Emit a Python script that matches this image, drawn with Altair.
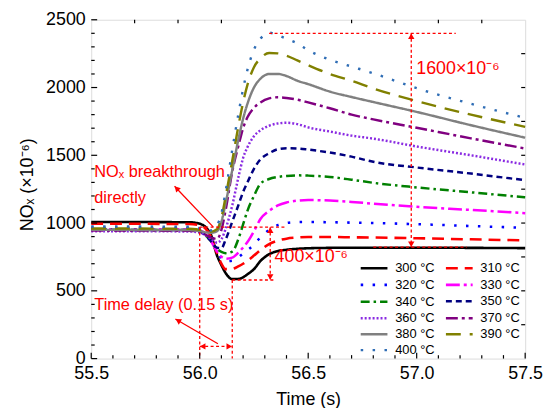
import math
import altair as alt
import pandas as pd

# ---------------- data ----------------
times = [55.5, 55.95, 56.0, 56.05, 56.08, 56.1, 56.12, 56.15, 56.18, 56.2, 56.22, 56.25,
         56.28, 56.32, 56.36, 56.4, 56.45, 56.5, 56.6, 56.7, 56.8, 57.0, 57.25, 57.5]

temps = ["300 °C", "310 °C", "320 °C", "330 °C", "340 °C", "350 °C",
         "360 °C", "370 °C", "380 °C", "390 °C", "400 °C"]

s300 = [1008, 1006, 995, 920, 760, 690, 630, 587, 588, 600, 622, 660, 720, 770, 793, 803, 810, 814, 817, 818, 818, 818, 817, 815]
s310 = [995, 993, 985, 905, 775, 700, 660, 662, 682, 700, 722, 760, 800, 845, 870, 885, 893, 897, 897, 895, 893, 888, 880, 872]
s320 = [965, 963, 955, 880, 790, 742, 718, 722, 750, 775, 800, 840, 895, 950, 985, 1000, 1007, 1008, 1006, 1003, 1000, 992, 978, 965]
s330 = [955, 953, 945, 870, 790, 752, 737, 745, 785, 820, 860, 940, 1030, 1090, 1130, 1152, 1165, 1170, 1166, 1156, 1143, 1120, 1097, 1073]
s340 = [950, 948, 940, 870, 810, 788, 778, 790, 890, 990, 1090, 1200, 1290, 1325, 1340, 1348, 1352, 1350, 1340, 1320, 1297, 1263, 1227, 1190]
s350 = [950, 948, 938, 870, 818, 815, 880, 1010, 1140, 1230, 1300, 1400, 1470, 1515, 1545, 1552, 1550, 1542, 1520, 1490, 1452, 1410, 1365, 1316]
s360 = [940, 938, 930, 885, 855, 880, 960, 1130, 1350, 1480, 1560, 1640, 1685, 1718, 1735, 1740, 1730, 1706, 1675, 1645, 1623, 1565, 1500, 1432]
s370 = [945, 943, 935, 895, 882, 950, 1100, 1380, 1580, 1700, 1780, 1850, 1890, 1920, 1928, 1923, 1910, 1890, 1847, 1800, 1765, 1703, 1625, 1550]
s380 = [950, 948, 940, 928, 940, 1010, 1150, 1390, 1630, 1770, 1880, 2000, 2065, 2100, 2100, 2085, 2050, 2025, 1970, 1930, 1893, 1820, 1722, 1630]
s390 = [960, 958, 950, 935, 955, 1040, 1200, 1460, 1730, 1890, 2020, 2150, 2215, 2255, 2252, 2235, 2200, 2165, 2100, 2050, 1993, 1900, 1800, 1710]
s400 = [975, 973, 962, 945, 985, 1070, 1240, 1540, 1820, 1990, 2130, 2280, 2360, 2405, 2385, 2360, 2325, 2275, 2205, 2155, 2105, 1995, 1880, 1776]

series = [s300, s310, s320, s330, s340, s350, s360, s370, s380, s390, s400]

colors = ["#000000", "#FF0000", "#0000FF", "#FF00FF", "#008000", "#000080",
          "#8A2BE2", "#800080", "#808080", "#808000", "#2F6DB5"]
dashes = [[1, 0], [12, 7], [2.5, 9.5], [14, 4, 3, 4], [9, 4, 2.5, 4], [6, 4],
          [2, 2], [12, 4, 3, 4], [1, 0], [15, 9], [2.5, 9.5]]
widths = [2.6, 2.4, 2.4, 2.4, 2.4, 2.4, 2.2, 2.4, 2.4, 2.4, 2.4]

x_major = [55.5, 56.0, 56.5, 57.0, 57.5]
x_minor = [55.6, 55.7, 55.8, 55.9, 56.1, 56.2, 56.3, 56.4, 56.6, 56.7, 56.8, 56.9,
           57.1, 57.2, 57.3, 57.4]
x_top = [55.7, 55.9, 56.1, 56.3, 56.5, 56.7, 56.9, 57.1, 57.3]
y_major = [0, 500, 1000, 1500, 2000, 2500]
y_minor = [100, 200, 300, 400, 600, 700, 800, 900, 1100, 1200, 1300, 1400,
           1600, 1700, 1800, 1900, 2100, 2200, 2300, 2400]
y_right = [250, 500, 750, 1000, 1250, 1500, 1750, 2000, 2250]

# annotation geometry (data units)
dotted_t1 = [56.32, 56.80, 56.975, 56.0, 56.15, 56.325, 56.0, 56.15, 56.0]
dotted_v1 = [2400, 822, 2400, 970, 580, 970, 970, 580, 90]
dotted_t2 = [57.18, 57.23, 56.975, 56.40, 56.35, 56.325, 56.0, 56.15, 56.15]
dotted_v2 = [2400, 822, 822, 970, 580, 580, 0, 0, 90]

solid_t1 = [56.062, 56.084]
solid_v1 = [972, 110]
solid_t2 = [55.884, 55.888]
solid_v2 = [1272, 292]

ann_text = ["NOₓ breakthrough", "directly", "Time delay (0.15 s)"]
ann_t = [55.514, 55.514, 55.514]
ann_v = [1340, 1148, 360]
big_text = ["1600×10⁻⁶", "400×10⁻⁶"]
big_t = [56.998, 56.345]
big_v = [2098, 709]

# ---------------- frames ----------------
W, H = 438, 342
SX = W / 2.0
SY = H / 2500.0

rows = []
for name, vals in zip(temps, series):
    for t, v in zip(times, vals):
        rows.append({"t": t, "v": v, "T": name})
df = pd.DataFrame(rows)


def head(tip_t, tip_v, from_t, from_v, back=3.0):
    dx = (tip_t - from_t) * SX
    dy = -(tip_v - from_v) * SY
    L = math.hypot(dx, dy)
    ux, uy = dx / L, dy / L
    ang = math.degrees(math.atan2(ux, -uy)) % 360
    return {"t": tip_t - ux * back / SX, "v": tip_v + uy * back / SY, "ang": ang}


heads = [
    head(56.975, 2400, 56.975, 822), head(56.975, 822, 56.975, 2400),
    head(56.325, 970, 56.325, 580), head(56.325, 580, 56.325, 970),
    head(56.0, 90, 56.15, 90), head(56.15, 90, 56.0, 90),
    head(solid_t2[0], solid_v2[0], solid_t1[0], solid_v1[0]),
    head(solid_t2[1], solid_v2[1], solid_t1[1], solid_v1[1]),
]
heads_df = pd.DataFrame(heads)

dotted_df = pd.DataFrame({"t": dotted_t1, "v": dotted_v1, "t2": dotted_t2, "v2": dotted_v2})
solid_df = pd.DataFrame({"t": solid_t1, "v": solid_v1, "t2": solid_t2, "v2": solid_v2})
ann_df = pd.DataFrame({"t": ann_t, "v": ann_v, "txt": ann_text})
big_df = pd.DataFrame({"t": big_t, "v": big_v, "txt": big_text})

FONT = "Liberation Sans"

X = alt.X("t:Q",
          scale=alt.Scale(domain=[55.5, 57.5], nice=False, zero=False),
          axis=alt.Axis(values=x_major, format=".1f", title="Time (s)", ticks=False, tickSize=0,
                        domain=False, grid=False, labelFontSize=18, labelPadding=6,
                        labelFlush=False, titleFontSize=18, titlePadding=8,
                        labelFont=FONT, titleFont=FONT, titleFontWeight="normal",
                        labelColor="black", titleColor="black"))
Y = alt.Y("v:Q",
          scale=alt.Scale(domain=[0, 2500], nice=False, zero=False),
          axis=alt.Axis(values=y_major, format="d", title="NOₓ (×10⁻⁶)", ticks=False, tickSize=0,
                        domain=False, grid=False, labelFontSize=18, labelPadding=6,
                        labelFlush=False, titleFontSize=18, titleFont=FONT, labelFont=FONT,
                        titleFontWeight="normal", titleAngle=270, titleX=-64, titleY=166,
                        titleAlign="center", titleBaseline="middle",
                        labelColor="black", titleColor="black"))

legend = alt.Legend(title=None, orient="none", legendX=277, legendY=242, columns=2,
                    direction="horizontal",
                    symbolType="M-2,0H2", symbolSize=182, symbolStrokeWidth=2.5,
                    symbolFillColor="transparent",
                    labelFontSize=13, labelFont=FONT, labelColor="black",
                    columnPadding=5, rowPadding=1.1, labelOffset=12.75, padding=0)

lines = alt.Chart(df).mark_line(interpolate="monotone").encode(
    x=X, y=Y,
    color=alt.Color("T:N", scale=alt.Scale(domain=temps, range=colors), legend=legend),
    strokeDash=alt.StrokeDash("T:N", scale=alt.Scale(domain=temps, range=dashes), legend=legend),
    strokeWidth=alt.StrokeWidth("T:N", scale=alt.Scale(domain=temps, range=widths), legend=None),
    order=alt.Order("t:Q"),
)

dotted = alt.Chart(dotted_df).mark_rule(color="#FF0000", strokeWidth=1.3, strokeDash=[3, 2.5]).encode(
    x=X, y=Y, x2="t2:Q", y2="v2:Q")
solid = alt.Chart(solid_df).mark_rule(color="#FF0000", strokeWidth=1.3).encode(
    x=X, y=Y, x2="t2:Q", y2="v2:Q")
arrowheads = alt.Chart(heads_df).mark_point(shape="triangle-up", filled=True, size=42,
                                            color="#FF0000", opacity=1).encode(
    x=X, y=Y, angle=alt.Angle("ang:Q", scale=None))
ann = alt.Chart(ann_df).mark_text(color="#FF0000", fontSize=16.5, font=FONT, align="left",
                                  baseline="alphabetic").encode(x=X, y=Y, text="txt:N")
big = alt.Chart(big_df).mark_text(color="#FF0000", fontSize=18, font=FONT, align="left",
                                  baseline="alphabetic").encode(x=X, y=Y, text="txt:N")

# inward axis ticks
tick_col = "black"
lmaj = alt.Chart(pd.DataFrame({"v": y_major})).mark_rule(color=tick_col, strokeWidth=1.2).encode(
    y=Y, x=alt.value(0), x2=alt.value(6))
lmin = alt.Chart(pd.DataFrame({"v": y_minor})).mark_rule(color=tick_col, strokeWidth=1.2).encode(
    y=Y, x=alt.value(0), x2=alt.value(3.5))
rtk = alt.Chart(pd.DataFrame({"v": y_right})).mark_rule(color=tick_col, strokeWidth=1.2).encode(
    y=Y, x=alt.value(W), x2=alt.value(W - 4))
bmaj = alt.Chart(pd.DataFrame({"t": x_major})).mark_rule(color=tick_col, strokeWidth=1.2).encode(
    x=X, y=alt.value(H), y2=alt.value(H - 6))
bmin = alt.Chart(pd.DataFrame({"t": x_minor})).mark_rule(color=tick_col, strokeWidth=1.2).encode(
    x=X, y=alt.value(H), y2=alt.value(H - 3.5))
ttk = alt.Chart(pd.DataFrame({"t": x_top})).mark_rule(color=tick_col, strokeWidth=1.2).encode(
    x=X, y=alt.value(0), y2=alt.value(3.5))

chart = alt.layer(lines, dotted, solid, arrowheads, ann, big,
                  lmaj, lmin, rtk, bmaj, bmin, ttk).properties(
    width=W, height=H,
    autosize=alt.AutoSizeParams(type="none"),
    padding={"left": 84, "top": 10, "right": 18, "bottom": 48},
).configure_view(stroke="black", strokeWidth=1.5).configure(background="white")

chart.save("out.html", embed_options={"renderer": "svg", "actions": False})
